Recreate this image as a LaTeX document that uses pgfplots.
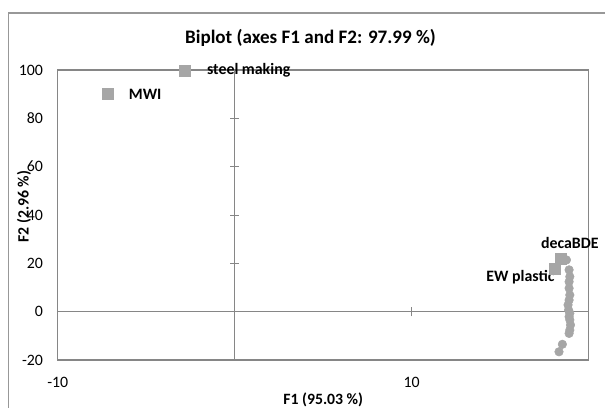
\documentclass[border=0pt]{standalone}
\usepackage{pgfplots}
\pgfplotsset{compat=1.18}
\usepackage{fontspec}
\setmainfont{Carlito}
\definecolor{mk}{HTML}{A6A6A6}
\definecolor{ax}{HTML}{868686}
\begin{document}
\begin{tikzpicture}[x=1pt,y=1pt]
\useasboundingbox (0,0) rectangle (453.75,305.25);
\draw[color=ax!85, line width=0.8pt] (6.2,-5) -- (6.2,295.5) -- (460,295.5);
% zero lines with crossing ticks
\begin{axis}[at={(43.3pt,35.25pt)}, anchor=south west, scale only axis,
  width=398.25pt, height=217.5pt,
  xmin=-10, xmax=20, ymin=-20, ymax=100,
  axis lines=middle, axis line style={-, ax, line width=0.75pt},
  xtick={10}, ytick={20,40,60,80}, xticklabels={}, yticklabels={},
  major tick length=7pt, tick align=center, tick style={ax, line width=0.75pt}]
\end{axis}
\begin{axis}[at={(43.3pt,35.25pt)}, anchor=south west, scale only axis,
  width=398.25pt, height=217.5pt,
  xmin=-10, xmax=20, ymin=-20, ymax=100,
  clip=false,
  axis line style={ax, line width=1pt},
  xtick={-10,10}, xticklabels={-10,10},
  ytick={-20,0,20,40,60,80,100}, yticklabels={-20,0,20,40,60,80,100},
  major tick length=0pt,
  tick label style={font=\fontsize{11.9}{14}\selectfont},
  xticklabel style={yshift=-9pt},
  yticklabel style={xshift=-7.5pt},
  title={Biplot (axes F1 and F2: 97.99 \%)},
  title style={at={(axis description cs:0.476,1)}, anchor=center, yshift=18pt, font=\fontsize{14.3}{17}\selectfont\bfseries},
  xlabel={F1 (95.03 \%)},
  xlabel style={at={(axis description cs:0.5,0)}, anchor=center, yshift=-30pt, font=\fontsize{11.8}{14}\selectfont\bfseries},
  ylabel={F2 (2.96 \%)},
  ylabel style={at={(axis description cs:-0.0635,0.529)}, anchor=center, font=\fontsize{11.8}{14}\selectfont\bfseries},
]
\addplot[only marks, mark=*, mark size=3.2pt, color=mk, mark options={draw=mk, fill=mk}] coordinates {
(18.74,21.4) (18.89,17.3) (18.93,14.5) (18.89,12.4) (18.89,9.7) (18.93,6.9)
(18.89,4.8) (18.83,2.8) (18.86,0.7) (18.93,-0.7) (18.89,-2.1) (18.93,-3.4)
(18.97,-5.5) (18.93,-7.6) (18.89,-9.0) (18.51,-13.5) (18.32,-16.6)
};
\addplot[only marks, mark=square*, mark size=4.2pt, color=mk, mark options={draw=mk, fill=mk}] coordinates {
(-2.82,99.7) (-7.16,90.1) (18.42,21.9) (18.08,17.7)
};
\node[anchor=west, inner sep=0pt, xshift=16.5pt, font=\fontsize{11.9}{14}\selectfont\bfseries] at (axis cs:-2.82,99.7) {steel making};
\node[anchor=west, inner sep=0pt, xshift=15.5pt, font=\fontsize{11.9}{14}\selectfont\bfseries] at (axis cs:-7.16,90.1) {MWI};
\node[anchor=center, inner sep=0pt, xshift=6.75pt, yshift=12pt, font=\fontsize{11.9}{14}\selectfont\bfseries] at (axis cs:18.42,21.9) {decaBDE};
\node[anchor=east, inner sep=0pt, yshift=-6pt, font=\fontsize{11.9}{14}\selectfont\bfseries] at (axis cs:18.08,17.7) {EW plastic};
\end{axis}
\end{tikzpicture}
\end{document}
